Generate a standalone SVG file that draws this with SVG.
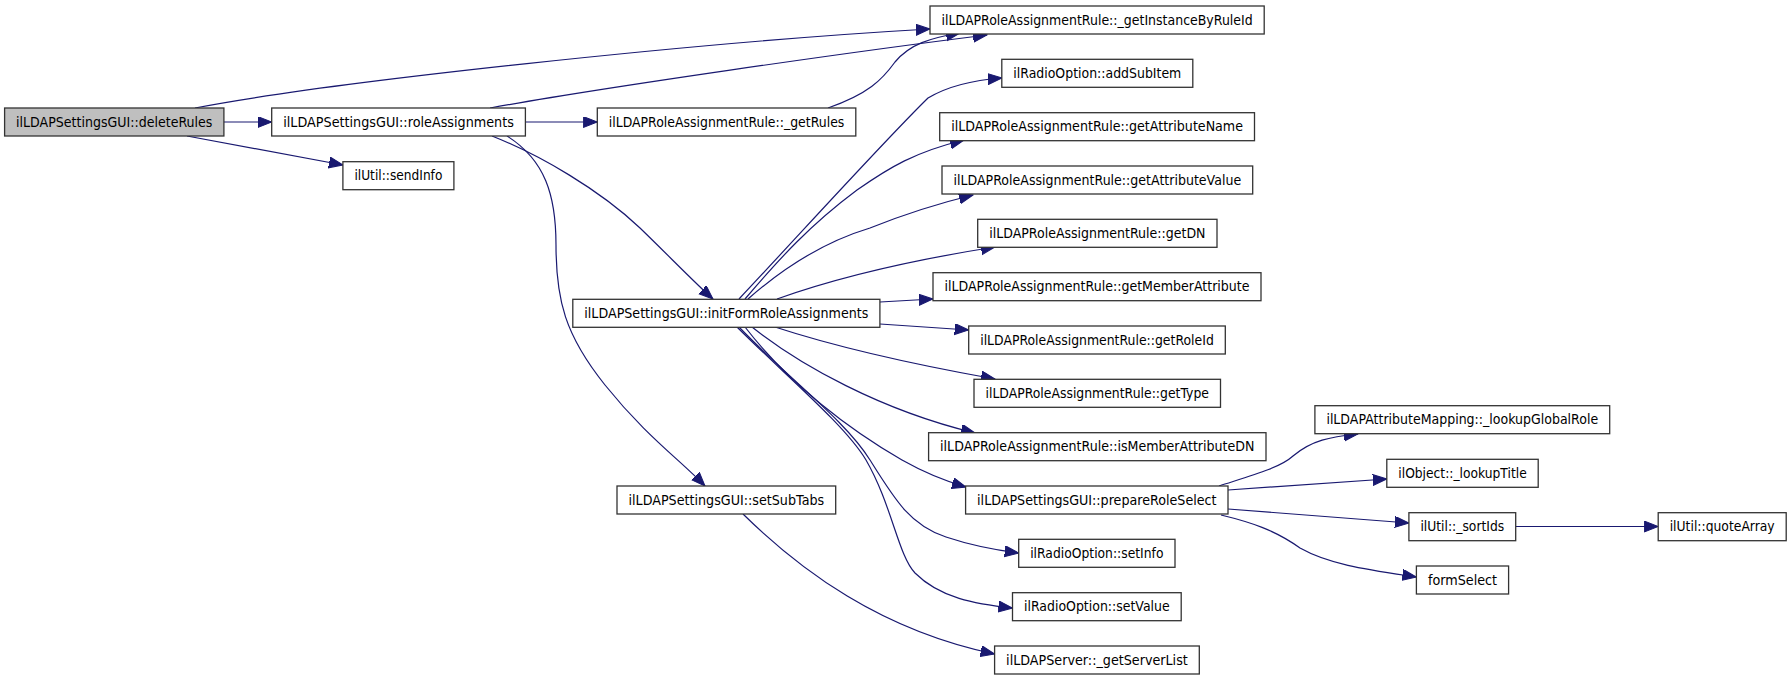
<svg xmlns="http://www.w3.org/2000/svg" width="1792" height="680" viewBox="0 0 1792 680">
<style>
.n rect{fill:#ffffff;stroke:#333333;stroke-width:1.3}
.n.root rect{fill:#bfbfbf}
.n text{font-family:"DejaVu Sans",Verdana,sans-serif;font-size:13.5px;fill:#000;text-anchor:middle}
.e path{fill:none;stroke:#191970;stroke-width:1.2;marker-end:url(#arr)}
</style>
<defs>
<marker id="arr" markerUnits="userSpaceOnUse" markerWidth="15" markerHeight="12" refX="14" refY="5.5" orient="auto">
<path d="M0,0 L14,5.5 L0,11 Z" fill="#191970" stroke="#191970" stroke-width="1"/>
</marker>
</defs>
<rect width="1792" height="680" fill="#ffffff"/>
<g id="edges" class="e">
<path d="M195,108 C330,82 700,42 930,29"/>
<path d="M490,108 C600,88 850,52 987,35"/>
<path d="M828,108 C868,94 882,80 895,62 C910,44 930,38 960,33"/>
<path d="M224,122 L271.7,122"/>
<path d="M187,136 L343,165"/>
<path d="M525.4,122 L597.3,122"/>
<path d="M492,136 C540,155 600,190 640,228 C670,257 695,283 713,299"/>
<path d="M507,136 C545,160 556,195 556,245 C556,300 565,335 605,385 C645,435 680,460 705,486"/>
<path d="M739,299 C800,234 885,140 928,98 C948,86 975,80 1002,78"/>
<path d="M745,299 C780,258 810,225 857,190 C890,167 915,152 964,140"/>
<path d="M748,299 C790,262 830,240 870,228 C905,214 940,203 973,195"/>
<path d="M777,299 C830,280 900,262 995,247"/>
<path d="M880,302 L933,299"/>
<path d="M880,324 L968.7,330"/>
<path d="M775,327 C830,345 900,362 995,379"/>
<path d="M752,327 C800,365 880,410 975,433"/>
<path d="M745,327 C790,385 850,430 902,460 C925,473 945,481 966,487"/>
<path d="M739,327 C790,380 845,420 870,460 C895,500 910,525 946,537 C970,545 995,550 1018.7,553"/>
<path d="M737,327 C785,375 845,425 866,460 C892,505 898,555 915,573 C940,598 975,604 1012.5,608"/>
<path d="M1219,486 C1250,476 1280,468 1293,456 C1312,440 1330,437 1358,434"/>
<path d="M1228,490 L1386.8,479"/>
<path d="M1228,509 L1408.9,523"/>
<path d="M1221,515 C1250,522 1275,530 1300,548 C1330,565 1370,570 1416.4,577"/>
<path d="M1515.7,526.5 L1658.2,526.5"/>
<path d="M743,514 C800,570 880,630 994.6,654"/>
</g>
<g id="deleteRules" class="n root"><rect x="4.6" y="108" width="219.3" height="28"/><text x="114.25" y="126.5" textLength="196.3" lengthAdjust="spacingAndGlyphs">ilLDAPSettingsGUI::deleteRules</text></g>
<g id="roleAssignments" class="n"><rect x="271.7" y="108" width="253.7" height="28"/><text x="398.55" y="126.5" textLength="230.7" lengthAdjust="spacingAndGlyphs">ilLDAPSettingsGUI::roleAssignments</text></g>
<g id="sendInfo" class="n"><rect x="342.9" y="161.7" width="111" height="28"/><text x="398.4" y="180.2" textLength="88" lengthAdjust="spacingAndGlyphs">ilUtil::sendInfo</text></g>
<g id="getRules" class="n"><rect x="597.3" y="108" width="258.5" height="28"/><text x="726.55" y="126.5" textLength="235.5" lengthAdjust="spacingAndGlyphs">ilLDAPRoleAssignmentRule::_getRules</text></g>
<g id="initFormRoleAssignments" class="n"><rect x="572.8" y="299.3" width="307.1" height="28"/><text x="726.35" y="317.8" textLength="284.1" lengthAdjust="spacingAndGlyphs">ilLDAPSettingsGUI::initFormRoleAssignments</text></g>
<g id="setSubTabs" class="n"><rect x="617" y="486" width="218.7" height="28"/><text x="726.35" y="504.5" textLength="195.7" lengthAdjust="spacingAndGlyphs">ilLDAPSettingsGUI::setSubTabs</text></g>
<g id="getInstanceByRuleId" class="n"><rect x="930" y="6" width="334.2" height="28"/><text x="1097.1" y="24.5" textLength="311.2" lengthAdjust="spacingAndGlyphs">ilLDAPRoleAssignmentRule::_getInstanceByRuleId</text></g>
<g id="addSubItem" class="n"><rect x="1001.8" y="59.3" width="191" height="28"/><text x="1097.3" y="77.8" textLength="168" lengthAdjust="spacingAndGlyphs">ilRadioOption::addSubItem</text></g>
<g id="getAttributeName" class="n"><rect x="939.7" y="112.7" width="314.8" height="28"/><text x="1097.1" y="131.2" textLength="291.8" lengthAdjust="spacingAndGlyphs">ilLDAPRoleAssignmentRule::getAttributeName</text></g>
<g id="getAttributeValue" class="n"><rect x="942" y="166" width="310.7" height="28"/><text x="1097.35" y="184.5" textLength="287.7" lengthAdjust="spacingAndGlyphs">ilLDAPRoleAssignmentRule::getAttributeValue</text></g>
<g id="getDN" class="n"><rect x="977.7" y="219.3" width="239.3" height="28"/><text x="1097.35" y="237.8" textLength="216.3" lengthAdjust="spacingAndGlyphs">ilLDAPRoleAssignmentRule::getDN</text></g>
<g id="getMemberAttribute" class="n"><rect x="933" y="272.7" width="328" height="28"/><text x="1097" y="291.2" textLength="305" lengthAdjust="spacingAndGlyphs">ilLDAPRoleAssignmentRule::getMemberAttribute</text></g>
<g id="getRoleId" class="n"><rect x="968.7" y="326" width="256.6" height="28"/><text x="1097" y="344.5" textLength="233.6" lengthAdjust="spacingAndGlyphs">ilLDAPRoleAssignmentRule::getRoleId</text></g>
<g id="getType" class="n"><rect x="974" y="379.3" width="246.5" height="28"/><text x="1097.25" y="397.8" textLength="223.5" lengthAdjust="spacingAndGlyphs">ilLDAPRoleAssignmentRule::getType</text></g>
<g id="isMemberAttributeDN" class="n"><rect x="928.6" y="432.7" width="337.4" height="28"/><text x="1097.3" y="451.2" textLength="314.4" lengthAdjust="spacingAndGlyphs">ilLDAPRoleAssignmentRule::isMemberAttributeDN</text></g>
<g id="prepareRoleSelect" class="n"><rect x="965.6" y="486" width="262.4" height="28"/><text x="1096.8" y="504.5" textLength="239.4" lengthAdjust="spacingAndGlyphs">ilLDAPSettingsGUI::prepareRoleSelect</text></g>
<g id="setInfo" class="n"><rect x="1018.7" y="539.3" width="156.3" height="28"/><text x="1096.85" y="557.8" textLength="133.3" lengthAdjust="spacingAndGlyphs">ilRadioOption::setInfo</text></g>
<g id="setValue" class="n"><rect x="1012.5" y="592.7" width="168.7" height="28"/><text x="1096.85" y="611.2" textLength="145.7" lengthAdjust="spacingAndGlyphs">ilRadioOption::setValue</text></g>
<g id="getServerList" class="n"><rect x="994.6" y="646" width="204.7" height="28"/><text x="1096.95" y="664.5" textLength="181.7" lengthAdjust="spacingAndGlyphs">ilLDAPServer::_getServerList</text></g>
<g id="lookupGlobalRole" class="n"><rect x="1314.9" y="405.7" width="294.8" height="28"/><text x="1462.3" y="424.2" textLength="271.8" lengthAdjust="spacingAndGlyphs">ilLDAPAttributeMapping::_lookupGlobalRole</text></g>
<g id="lookupTitle" class="n"><rect x="1386.8" y="459.3" width="151.4" height="28"/><text x="1462.5" y="477.8" textLength="128.4" lengthAdjust="spacingAndGlyphs">ilObject::_lookupTitle</text></g>
<g id="sortIds" class="n"><rect x="1408.9" y="512.7" width="106.8" height="28"/><text x="1462.3" y="531.2" textLength="83.8" lengthAdjust="spacingAndGlyphs">ilUtil::_sortIds</text></g>
<g id="formSelect" class="n"><rect x="1416.4" y="566" width="92.2" height="28"/><text x="1462.5" y="584.5" textLength="69.2" lengthAdjust="spacingAndGlyphs">formSelect</text></g>
<g id="quoteArray" class="n"><rect x="1658.2" y="512.7" width="128" height="28"/><text x="1722.2" y="531.2" textLength="105" lengthAdjust="spacingAndGlyphs">ilUtil::quoteArray</text></g>
</svg>
